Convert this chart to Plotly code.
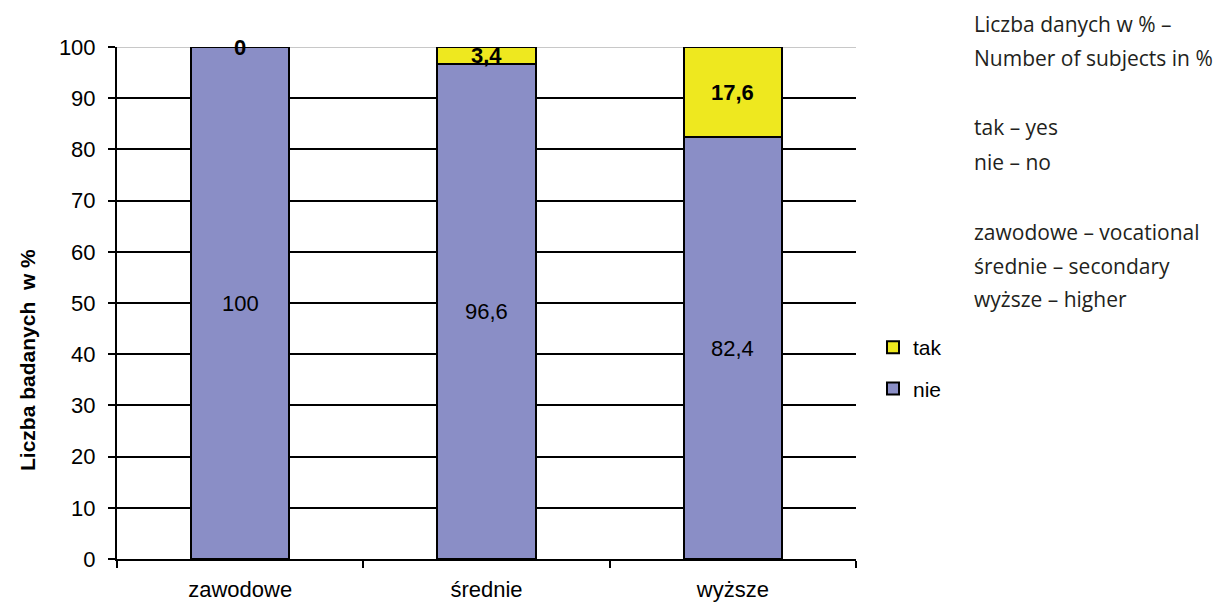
import plotly.graph_objects as go

# Education level categories and answer shares (%)
categories = ["zawodowe", "średnie", "wyższe"]
nie_values = [100, 96.6, 82.4]
tak_values = [0, 3.4, 17.6]
y_ticks = list(range(0, 101, 10))

note_lines = [
    "Liczba danych w % –",
    "Number of subjects in %",
    "",
    "tak – yes",
    "nie – no",
    "",
    "zawodowe – vocational",
    "średnie – secondary",
    "wyższe – higher",
]

NIE_COLOR = "#8A8EC6"
TAK_COLOR = "#EEE81F"
FONT = "Arial, Liberation Sans"

# Plot area in figure pixels
W, H = 1220, 602
L, R, T, B = 117, 856, 47, 559


def px_x(px):
    return (px - L) / (R - L)


def px_y(py):
    return (B - py) / (B - T)


def fmt(v):
    return f"{v:g}".replace(".", ",")


fig = go.Figure()
fig.add_trace(go.Bar(
    name="nie", x=categories, y=nie_values, legendgroup="nie", legendrank=2,
    marker=dict(color=NIE_COLOR, line=dict(color="black", width=2)),
    hoverinfo="skip",
))
fig.add_trace(go.Bar(
    name="tak", x=categories, y=tak_values, legendgroup="tak", legendrank=1,
    marker=dict(color=TAK_COLOR, line=dict(color="black", width=2)),
    hoverinfo="skip",
))

# Value labels centred on each segment
annotations = []
for cat, n, t in zip(categories, nie_values, tak_values):
    annotations.append(dict(
        x=cat, y=n / 2, xref="x", yref="y", text=fmt(n), showarrow=False,
        font=dict(family=FONT, size=22, color="black"),
    ))
    annotations.append(dict(
        x=cat, y=n + t / 2, xref="x", yref="y", text=f"<b>{fmt(t)}</b>",
        showarrow=False,
        font=dict(family=FONT, size=22, color="black"),
    ))

# Y-axis title
annotations.append(dict(
    x=px_x(27), y=px_y(360), xref="paper", yref="paper",
    text="<b>Liczba badanych  w %</b>", textangle=-90, showarrow=False,
    xanchor="center", yanchor="middle",
    font=dict(family=FONT, size=21, color="black"),
))

# Side note with translations
note_y = [24, 58, None, 127, 162, None, 232, 266, 299]
for line, py in zip(note_lines, note_y):
    if not line:
        continue
    annotations.append(dict(
        x=px_x(972), y=px_y(py), xref="paper", yref="paper",
        xanchor="left", yanchor="middle", text=line, showarrow=False,
        font=dict(family="Open Sans, Noto Sans", size=21, color="#231F20"),
    ))

fig.update_layout(
    width=W, height=H,
    margin=dict(l=L, r=W - R, t=T, b=H - B, autoexpand=False),
    paper_bgcolor="white", plot_bgcolor="white",
    barmode="stack", bargap=0.6,
    font=dict(family=FONT, size=21, color="black"),
    showlegend=True,
    legend=dict(
        x=px_x(873), y=px_y(327), xanchor="left", yanchor="top",
        traceorder="grouped", tracegroupgap=11,
        font=dict(family=FONT, size=21, color="black"),
        itemwidth=30, bgcolor="rgba(0,0,0,0)",
    ),
    annotations=annotations,
    shapes=[dict(
        type="line", xref="paper", yref="y", x0=0, x1=1, y0=100, y1=100,
        line=dict(color="#C8C8C8", width=2), layer="below",
    )],
)

fig.update_xaxes(
    showline=True, linecolor="black", linewidth=2, automargin=False,
    ticks="outside", tickson="boundaries", ticklen=7, tickcolor="black",
    tickwidth=1.5, showgrid=False, ticklabelstandoff=10,
    tickfont=dict(family=FONT, size=22, color="black"),
)
fig.update_yaxes(
    range=[0, 100], tickvals=y_ticks, automargin=False,
    showline=True, linecolor="black", linewidth=2,
    ticks="outside", ticklen=7, tickcolor="black", tickwidth=1.5,
    showgrid=True, gridcolor="black", gridwidth=1.5, zeroline=False,
    ticklabelstandoff=8,
    tickfont=dict(family=FONT, size=22, color="black"),
)

fig.write_html("out.html")
